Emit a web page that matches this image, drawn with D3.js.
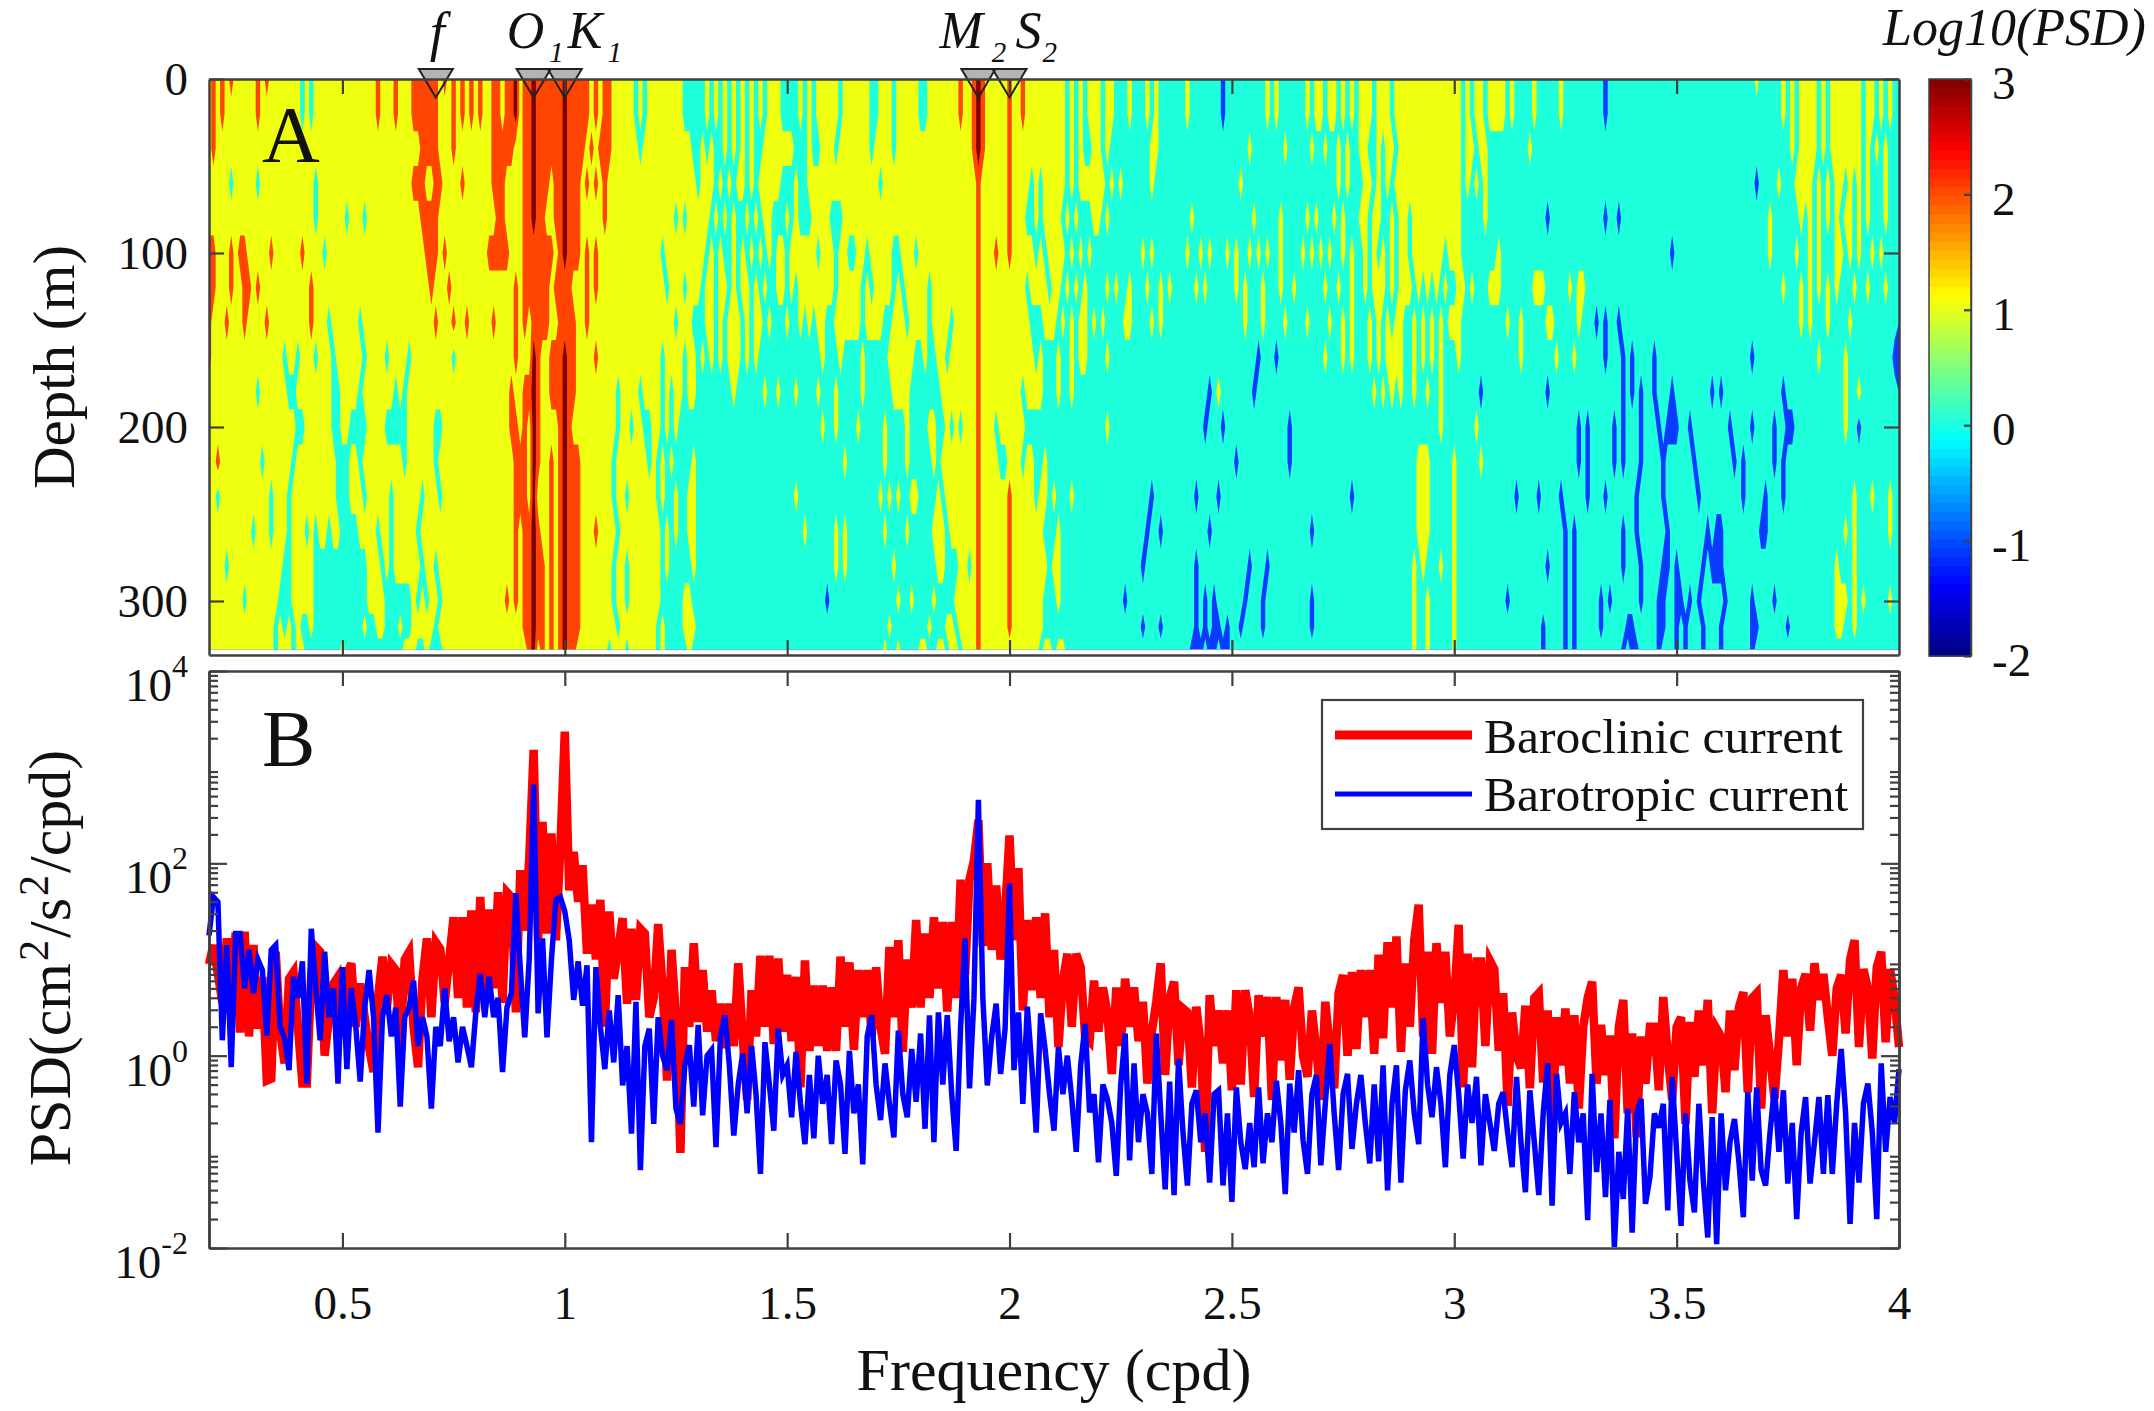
<!DOCTYPE html>
<html>
<head>
<meta charset="utf-8">
<script src="https://cdnjs.cloudflare.com/ajax/libs/d3/7.8.5/d3.min.js"></script>
<style>
  html, body { margin: 0; padding: 0; background: #fff; }
  text { font-family: "Liberation Serif", serif; fill: #111; }
</style>
</head>
<body>
<div id="chart"></div>
<script>
// depth of each row of the spectrogram (m)
const rowDepths = [0, 20, 40, 60, 80, 100, 120, 140, 160, 180, 200, 220, 240, 260, 280, 300, 315, 328];

// one string per depth, one digit per 0.01 cpd from 0.20 cpd, blocks of 0.1 cpd
// 1 blue (<0), 2 cyan (0-1), 3 yellow (1-2), 4 orange (2-3), 5 dark red (>3)
const psdRows = [
"3434343333 3434333333 3232333333 3333333343 3343334444 4434343434 3433443445 3445444444 5444443434 4333332323 3333333222 2232323232 3232323332 2223232333 3323333332 2333233333 2233333334 3345433333 4334333333 3332323233 3233222322 2323222222 3222222212 2222222232 3222222323 3233232323 3323332333 3333333333 3323233233 3323222232 2222322222 2222122222 2222222222 2222222222 2222222232 2222323233 3323233333 3323323232",
"3434333333 3433333333 3232333333 3333333343 3343334444 4433343434 3433443445 3445444444 5444443434 4333332323 3333333222 2232323232 3232323332 2223232333 3323333332 2333233333 2233333334 3345433333 4334333333 3332323233 3233222322 2323222222 3222222212 2222222232 3222222323 3233232323 3323332333 3333333333 3323233233 3323222232 2222322222 2222122222 2222222222 2222222222 2222222222 2222323233 3323233333 3323323232",
"3433333333 3333333333 3333333333 3333333333 3333333344 4433343333 3333444443 3445444444 5444434344 4333333233 3333333332 2323223232 3232233333 3322232233 3233333332 3333233333 3333333333 3345433333 4333333333 3332323223 3232222222 2233222222 2222222222 2222322222 2232222232 2322323223 3223233233 3333333333 3323323322 2222222322 2222222222 2222222222 2222222222 2222222222 2222222222 2222223233 3323233333 3323232322",
"3333323333 3233333333 3333233333 3333333333 3333334443 3443333433 3333444333 3445444344 5444343434 3333333333 3333333333 2333232323 3232333332 2232233333 3333333333 3233333333 3333333333 3334333333 4333323233 3332323333 3323232222 2232222222 2222222222 2232222222 2222222222 2222323222 3323232333 3333333333 3323232322 2222222222 2222222222 2222222222 2222222222 2222222222 2222222212 2223222333 3232323323 2323222322",
"3333333333 3333333333 3333233333 3233323333 3333333344 4433333333 3333344333 3445443344 5444333334 3333333333 3333323233 3332323232 2323233222 3232223333 2223333333 3333333333 3333333333 3334333333 4333223233 3323232223 3232222222 2222222222 2322222222 2222232222 2322222323 2223232223 3233223233 2333333333 3322222322 2222222222 2122222222 2222122122 2222222222 2222222222 2222222222 2322222232 3232323233 2323222322",
"4433343443 3333433333 3433332333 3333333333 3333333334 4434333333 3334444433 3444444434 5444343433 3333333333 3323333333 3323232232 3232323233 2333333233 3233223323 3333223332 3333333333 3334333433 4333332323 3332323232 2222222222 3232222222 3223232223 2322323232 2322223232 3232232322 3232323233 2333333323 3322222222 3222222222 2222222222 2222222222 2222222221 2222222222 2222222222 2322222322 3232223323 2322323222",
"4433343344 3433333333 3334333333 3333333333 3333333333 4333433333 3333333334 3444444344 4433343433 3333333333 3332333233 3233233232 3323232233 2323333333 3233333232 3333232333 3323333333 3334333333 3333233332 3323232322 2232322322 2322323222 2232322222 2323222322 2322322222 2322322322 3233323233 3232323232 2332322233 3222222233 3222223233 2222222222 2222222222 2222222222 2222222222 2222322232 3232323222 3223222322",
"4333433343 3334333333 3334333233 3333233333 3333333333 3433343343 3333433334 3434444334 4443343333 3333333333 3333323332 2233232333 2323323222 3223232332 2333333233 3322333233 3323333233 3334333333 3333322233 3232323323 2322223322 2232322222 2222222222 2223222322 2232222322 2232232322 2323232332 2323232323 3322222222 2232232222 2332222232 2212122122 2222222222 2222222222 2222222222 2222222232 3222322223 2222222222",
"4333333333 3333333233 2333233323 3333323333 2333323333 3333323333 3333333334 3335433444 5443333433 3333333333 3323333233 2323232333 2323222222 2222222232 2232222322 2223333332 2322332333 3334333333 3333332322 2322323322 2232222222 2222222222 2222222222 2222221222 1222222222 2322232322 2323233332 2323232322 2322222222 2222232222 2223222322 2222122212 1222212222 2222222222 2222222122 2222222222 2232222232 2222222221",
"3333333333 3233333322 3333333322 3333233333 3323233333 3333333333 3333333343 3445433444 5443333333 3323333233 3323233233 2222222232 2222232232 2232222322 2322222322 2222333322 2222233333 3334333333 3332333322 2322322222 2222222222 2222222222 2222212322 2222212222 2222222222 2222222222 2232323232 2322322322 2222221222 2222222222 2122222222 2222222212 1212212221 2222222212 1222222222 2222122222 2222222232 2322222222",
"3333333333 3333333333 2233333322 3322223333 2222233333 3223333333 3333333344 3435433334 5433333333 3323323322 3323232222 2222222222 2222222222 2222222232 2322223222 2232222322 2233223232 3334333233 3333222222 2222222222 2232222222 2222222222 2222122212 2222222222 2221222222 2222222222 2222222222 2222222322 2222232222 2222222222 2222222212 1222221212 2212221211 1221222222 2212222122 2212211222 2222222232 2122222222",
"3343333333 3323333332 3333333332 2233233333 3333233333 3233333333 3333333334 4435433434 5444333333 3233333332 3232322223 2222222222 2222222222 2222222222 2223222222 2232222322 2223233333 3334333322 3332332232 2222222222 2222222222 2222222222 2222222222 2122222222 2221222222 2222222222 2222222222 2233322222 3222223222 2222222222 2222222212 1222221212 2212222122 2222122222 2221212222 2212122222 2222222222 2222222222",
"3323333333 3333233323 3333333332 2233323333 3233333323 3323333333 3333333334 4435333434 5444333333 3233233333 3232232233 2222222222 2222222222 2232222222 2222222222 2323232233 2222323333 3334333333 4333332332 3222322222 2222222222 2212222222 2212222122 2222222222 2222222222 2222222122 2222222222 2233322222 3222222222 2222122221 2222122222 1222122222 2122222122 2222212222 2222212222 1222122222 2222222222 3222322232",
"3333333333 2333233323 3323233233 2222333323 3233333233 3333333333 3333333334 3445433434 5444333433 3323333333 3323232233 2222222222 2222222222 2222322222 2323222222 2232222322 2223332333 3334333333 4333333322 2322222222 2222222222 2122122222 2222212222 2222222222 2222222212 2222222222 2222222222 2233322222 3222222222 2222222222 2222212122 2222222212 2122222212 2222222121 1222222221 1222222222 2222222232 3222222232",
"3333233333 3333333223 3333222222 2222223332 3233333323 3233333333 3333333334 3445443434 5444333333 3233233333 3323222223 2222222222 2222222222 2222222222 2323222222 2222322222 2222332223 3234333333 4333333332 3322222222 2222222222 1222222222 2212222222 2222122212 2222222222 2222222222 2222222222 2323222322 3222222222 2222222222 2122212122 2222222212 2212222112 1222221211 1222222222 2222222222 2222223222 3222222222",
"3333333323 3333332223 3333222222 2222223333 2222223232 3323333333 3333333434 3445443434 5444333333 3233233333 3322222332 2222222222 2222222222 2222222221 2222222222 2222232232 2223222233 3334333333 4333333322 2322222222 2222221222 2222222222 2212121222 2221222122 2222222212 2222222222 2222222222 2322322222 3222222222 2212222222 2222212122 2221212222 2212221122 1121212222 2122222122 2212222222 2222223332 3232222232",
"3333333333 3333323232 3223222222 2222232233 2223223333 3233333333 3333333333 3445443434 5444333333 3323333333 3232222333 2222222222 2222222222 2222222222 2222222222 2223222222 2232223323 3334333333 4333333322 2222222222 2222222222 1222122222 2212121121 2212222122 2222222212 2222222222 2222222222 2322322222 3222222222 2222222222 1222212122 2221222221 1222221122 1212221222 1222222112 2222212222 2222223322 3222222222",
"2333333333 3333323332 3322222222 3222222222 2222333223 2223333333 3333333333 3345343434 5443333333 2333233333 3232222232 2222222222 2222222222 2222222222 2222222222 2232232222 3322332332 3334333333 3333333233 2332222222 2222222222 2222222222 2111211211 2222222222 2222222222 2222222222 2222222222 2322322222 3222222222 2222222222 1222212122 2222222212 1122221222 1212221222 1222222122 2222222222 2222222222 2222222222"
];

// PSD, log10 x 100, one value per 0.01 cpd from 0.20 to 4.00
const baroclinic = [
95,115,85,55,122,48,128,24,129,20,
115,28,82,-26,-24,108,24,-8,80,87,
30,-29,-29,85,113,108,0,40,75,82,
20,85,96,30,75,40,8,-17,60,103,
50,95,89,5,100,108,30,-12,80,122,
40,118,111,55,100,144,60,144,50,151,
45,165,60,152,70,170,55,170,165,45,
193,130,205,318,120,243,127,231,120,216,
337,172,212,160,198,106,157,100,162,30,
150,80,110,143,54,132,58,132,127,40,
60,137,70,-26,110,40,-101,92,30,117,
35,89,25,68,15,54,8,54,10,96,
20,-46,68,20,104,30,104,12,101,25,
84,15,82,-33,99,5,73,10,73,5,
71,5,103,30,97,6,89,40,89,20,
92,30,2,113,40,120,4,100,50,141,
50,127,60,144,70,139,46,139,60,183,
84,183,203,245,114,200,110,177,100,150,
229,120,195,47,141,68,144,60,148,40,
110,9,78,106,30,106,92,20,15,78,
25,71,45,-19,71,10,80,30,71,15,
56,-29,25,56,96,-20,60,77,-10,49,
45,-33,51,10,-100,63,10,47,-8,47,
-36,68,-30,68,40,-43,63,20,61,-46,
61,-5,58,-25,50,71,0,-22,47,5,
-46,56,10,-34,65,84,0,87,7,89,
40,89,2,105,18,118,50,124,4,96,
30,120,157,20,108,2,117,55,108,20,
60,136,-33,106,-12,98,98,10,99,90,
5,65,-52,45,0,-13,52,-34,60,65,
-28,47,-90,40,-10,49,-29,42,-55,30,
60,77,-29,32,-20,21,-86,30,58,-60,
23,-85,20,-29,30,30,-36,61,0,-46,
30,40,-71,35,-22,47,-10,58,-60,28,
20,-38,47,-15,50,66,-38,60,65,-55,
42,0,-45,16,89,20,80,-10,70,85,
26,96,58,85,40,0,70,84,23,100,
120,9,90,70,-3,92,108,14,90,60,
9
];

const barotropic = [
125,165,160,16,115,-12,127,127,70,110,
65,100,89,21,110,115,30,18,-15,82,
60,98,-29,132,70,16,108,40,70,-29,
92,-14,70,30,-27,50,89,40,-80,40,
63,20,50,-53,40,50,78,10,40,20,
-55,30,10,70,15,40,-7,30,10,-12,
45,85,40,82,40,60,-17,50,65,169,
90,19,100,282,44,122,19,100,162,165,
150,120,58,98,52,94,-90,92,30,-14,
47,-7,63,-31,10,-81,56,-119,10,28,
-71,40,0,-15,37,-55,-71,-10,11,-53,
32,-62,0,6,-95,20,42,-10,-83,-30,
2,-60,10,-40,-123,14,-30,-78,28,-20,
-10,-64,4,-50,-92,-20,-86,0,-50,-20,
-92,-5,-30,-102,5,-60,-30,-113,20,42,
-30,-67,-8,-50,-85,26,-40,-64,7,-48,
23,-76,42,-90,45,-30,42,-40,-99,30,
122,-34,59,266,60,-31,20,54,-19,28,
179,-15,45,-50,51,-10,-80,44,7,-40,
-78,9,-40,0,-45,-100,-10,33,-59,-40,
-111,-30,-45,-70,-125,-30,23,-109,-8,-90,
-40,-60,-123,23,-60,-139,-27,-145,-3,-80,
-135,-50,-36,-90,-60,-132,-40,-36,-135,-60,
-152,-33,-90,-118,-70,-116,-33,-112,-60,-90,
-26,-70,-144,-29,-80,-15,-88,-123,-40,-20,
-114,-50,12,-60,-119,-40,-19,-97,-50,-20,
-70,-112,-30,-110,-10,-140,-50,-10,-132,-36,
-5,-60,-92,39,-30,-64,-12,-50,-116,-20,
11,-40,-107,-30,-70,-22,-114,-40,-70,-99,
-50,-38,-80,-116,-22,-90,-142,-36,-90,-145,
-60,-8,-156,-19,-70,-60,-123,-38,-90,-60,
-171,-19,-121,-60,-147,-46,-199,-100,-149,-55,
-184,-60,-45,-154,-126,-60,-75,-50,-161,-22,
-100,-177,-60,-130,-163,-50,-130,-189,-64,-196,
-60,-140,-90,-66,-110,-168,-38,-130,-33,-119,
-135,-80,-33,-100,-36,-133,-70,-170,-80,-43,
-133,-90,-43,-123,-41,-123,-50,7,-60,-175,
-70,-132,-50,-29,-80,-170,-8,-100,-43,-70,
-14
];

const constituents = [
  { name: "f", sub: "", freq: 0.71 },
  { name: "O", sub: "1", freq: 0.93 },
  { name: "K", sub: "1", freq: 1.0 },
  { name: "M", sub: "2", freq: 1.93 },
  { name: "S", sub: "2", freq: 2.0 }
];

const freqTicks = [0.5, 1, 1.5, 2, 2.5, 3, 3.5, 4];
const depthTicks = [0, 100, 200, 300];
const psdMajor = [1e-2, 1e0, 1e2, 1e4];
const colorTicks = [3, 2, 1, 0, -1, -2];
const legendItems = ["Baroclinic current", "Barotropic current"];

const levelColors = ["#0a3cff", "#1effdc", "#eeff10", "#ff4500", "#800000"];

// where each name starts relative to its marker and the gap before the subscript
const nameOffset = { f: -6, O: -27, K: 3, M: -39, S: 6 };
const subGap = { f: 0, O: 5, K: 5, M: 9, S: 1 };

const width = 2154, height = 1411;
const left = 209, right = 1899;
const topA = 79, bottomA = 655;
const topB = 671, bottomB = 1248;
const axisColor = "#404040";

const svg = d3.select("#chart").append("svg")
  .attr("width", width)
  .attr("height", height)
  .style("display", "block");

const x = d3.scaleLinear().domain([0.2, 4]).range([left, right]);
const yDepth = d3.scaleLinear().domain([0, (bottomA - topA) / 1.74]).range([topA, bottomA]);
const yPsd = d3.scaleLog().domain([1e-2, 1e4]).range([bottomB, topB]);
const yColor = d3.scaleLinear().domain([-2, 3]).range([bottomA + 1, topA]);

// markers, gray part is behind the image so it only shows above the frame
const triangle = d3.line();
const triPoints = [[-17, -10], [17, -10], [0, 18.5]];
const markerPath = d => triangle(triPoints.map(p => [x(d.freq) + p[0], topA + p[1]])) + "Z";

svg.selectAll(".marker-fill")
  .data(constituents)
  .enter()
  .append("path")
  .attr("class", "marker-fill")
  .attr("d", markerPath)
  .attr("fill", "#b4b4b4");

// panel A, filled contours of the level grid
const nRows = rowDepths.length;
const cells = psdRows.map(r => r.replace(/ /g, "").padEnd(380, "2").slice(0, 380));
const nCols = cells[0].length;
const values = [];
cells.forEach(r => { for (let i = 0; i < nCols; i++) values.push(+r[i]); });

const gridX = d3.scaleLinear()
  .domain([0, 0.5, nCols - 0.5, nCols])
  .range([0.2, 0.2, 3.99, 4]);
const gridY = d3.scaleLinear()
  .domain([0].concat(d3.range(nRows).map(i => i + 0.5), [nRows]))
  .range([0].concat(rowDepths, [rowDepths[nRows - 1]]));

const contours = d3.contours()
  .size([nCols, nRows])
  .thresholds([0.5, 1.5, 2.5, 3.5, 4.5])(values);

const gridPath = d3.geoPath(d3.geoTransform({
  point: function (px, py) {
    this.stream.point(x(gridX(px)), yDepth(gridY(py)));
  }
}));

svg.append("clipPath").attr("id", "heat-clip")
  .append("rect")
  .attr("x", left).attr("y", topA)
  .attr("width", right - left).attr("height", yDepth(328) - topA);

svg.append("g")
  .attr("clip-path", "url(#heat-clip)")
  .selectAll("path")
  .data(contours)
  .enter()
  .append("path")
  .attr("d", gridPath)
  .attr("fill", (d, i) => levelColors[i]);

svg.selectAll(".marker-line")
  .data(constituents)
  .enter()
  .append("path")
  .attr("class", "marker-line")
  .attr("d", markerPath)
  .attr("fill", "none")
  .attr("stroke", "#222")
  .attr("stroke-width", 2);

// constituent names
const names = svg.selectAll(".name")
  .data(constituents)
  .enter()
  .append("text")
  .attr("class", "name")
  .attr("x", d => x(d.freq) + nameOffset[d.name])
  .attr("y", d => d.name === "f" ? 50 : 48)
  .attr("font-style", "italic")
  .attr("font-size", d => d.name === "f" ? 54 : 52);
names.append("tspan").text(d => d.name);
names.append("tspan")
  .attr("font-size", 29)
  .attr("dy", 14)
  .attr("dx", d => subGap[d.name])
  .text(d => d.sub);

// axes
function styleAxis(g) {
  g.selectAll("path.domain").attr("stroke", axisColor).attr("stroke-width", 2.5);
  g.selectAll(".tick line").attr("stroke", axisColor).attr("stroke-width", 2.2);
  g.selectAll(".tick text").attr("font-size", 47).attr("font-family", "Liberation Serif").attr("fill", "#111");
}

// panel A frame
svg.append("g").attr("transform", `translate(0,${bottomA})`)
  .call(d3.axisBottom(x).tickValues(freqTicks.slice(0, 7)).tickSize(-15).tickFormat("").tickSizeOuter(0))
  .call(styleAxis);
svg.append("g").attr("transform", `translate(0,${topA})`)
  .call(d3.axisTop(x).tickValues(freqTicks.slice(0, 7)).tickSize(-15).tickFormat("").tickSizeOuter(0))
  .call(styleAxis);
svg.append("g").attr("transform", `translate(${left},0)`)
  .call(d3.axisLeft(yDepth).tickValues(depthTicks).tickSize(-15).tickSizeOuter(0).tickPadding(21))
  .call(styleAxis);
svg.append("g").attr("transform", `translate(${right},0)`)
  .call(d3.axisRight(yDepth).tickValues(depthTicks).tickSize(-15).tickSizeOuter(0).tickFormat(""))
  .call(styleAxis);

// panel B lines
const lineB = d3.line()
  .x((d, i) => x(0.2 + i * 0.01))
  .y(d => yPsd(Math.pow(10, d / 100)));

svg.append("path")
  .datum(baroclinic)
  .attr("d", lineB)
  .attr("fill", "none")
  .attr("stroke", "#ff0000")
  .attr("stroke-width", 8.5);

svg.append("path")
  .datum(barotropic)
  .attr("d", lineB)
  .attr("fill", "none")
  .attr("stroke", "#0000ff")
  .attr("stroke-width", 5.5);

// panel B frame
const minor = [];
d3.range(-2, 4).forEach(k => {
  d3.range(2, 10).forEach(m => minor.push(m * Math.pow(10, k)));
});

svg.append("g").attr("transform", `translate(0,${bottomB})`)
  .call(d3.axisBottom(x).tickValues(freqTicks).tickSize(-15).tickSizeOuter(0).tickPadding(38).tickFormat(d => d))
  .call(styleAxis);
svg.append("g").attr("transform", `translate(0,${topB})`)
  .call(d3.axisTop(x).tickValues(freqTicks).tickSize(-15).tickSizeOuter(0).tickFormat(""))
  .call(styleAxis);

[[d3.axisLeft, left], [d3.axisRight, right]].forEach(side => {
  svg.append("g").attr("transform", `translate(${side[1]},0)`)
    .call(side[0](yPsd).tickValues(minor).tickSize(-9).tickSizeOuter(0).tickFormat(""))
    .call(styleAxis);
  svg.append("g").attr("transform", `translate(${side[1]},0)`)
    .call(side[0](yPsd).tickValues(psdMajor).tickSize(-18).tickSizeOuter(0).tickFormat(""))
    .call(styleAxis);
});

const psdLabels = svg.selectAll(".psd-label")
  .data(psdMajor)
  .enter()
  .append("text")
  .attr("class", "psd-label")
  .attr("x", 188)
  .attr("y", d => yPsd(d) + 30)
  .attr("text-anchor", "end")
  .attr("font-size", 47);
psdLabels.append("tspan").text("10");
psdLabels.append("tspan")
  .attr("font-size", 32)
  .attr("dy", -24)
  .text(d => Math.round(Math.log10(d)));

// legend
const legend = svg.append("g");
legend.append("rect")
  .attr("x", 1322).attr("y", 700)
  .attr("width", 541).attr("height", 129)
  .attr("fill", "#fff")
  .attr("stroke", axisColor)
  .attr("stroke-width", 2.2);
legend.selectAll("line")
  .data(legendItems)
  .enter()
  .append("line")
  .attr("x1", 1335).attr("x2", 1472)
  .attr("y1", (d, i) => 735 + i * 59)
  .attr("y2", (d, i) => 735 + i * 59)
  .attr("stroke", (d, i) => i === 0 ? "#ff0000" : "#0000ff")
  .attr("stroke-width", (d, i) => i === 0 ? 9 : 5);
legend.selectAll("text")
  .data(legendItems)
  .enter()
  .append("text")
  .attr("x", 1484)
  .attr("y", (d, i) => 753 + i * 58)
  .attr("font-size", 49.5)
  .text(d => d);

// colorbar
const barX = 1929, barW = 42, nBands = 64;
const jet = t => {
  const c = v => Math.round(255 * Math.max(0, Math.min(1, v)));
  return `rgb(${c(1.5 - Math.abs(4 * t - 3))},${c(1.5 - Math.abs(4 * t - 2))},${c(1.5 - Math.abs(4 * t - 1))})`;
};
const bandH = (yColor(-2) - yColor(3)) / nBands;
svg.selectAll(".band")
  .data(d3.range(nBands))
  .enter()
  .append("rect")
  .attr("class", "band")
  .attr("x", barX)
  .attr("width", barW)
  .attr("y", d => yColor(-2 + 5 * (d + 1) / nBands))
  .attr("height", bandH + 0.6)
  .attr("fill", d => jet((d + 0.5) / nBands));
svg.append("rect")
  .attr("x", barX).attr("y", topA)
  .attr("width", barW).attr("height", bottomA + 1 - topA)
  .attr("fill", "none")
  .attr("stroke", axisColor)
  .attr("stroke-width", 1.5);
svg.append("g").attr("transform", `translate(${barX + barW},0)`)
  .call(d3.axisRight(yColor).tickValues(colorTicks).tickSize(-7).tickSizeOuter(0).tickPadding(21).tickFormat(d => d))
  .call(styleAxis)
  .call(g => g.select("path.domain").attr("stroke-width", 1.5))
  .call(g => g.selectAll(".tick text").attr("dy", "0.42em"));

// titles and panel letters
svg.append("text")
  .attr("x", 1883).attr("y", 45)
  .attr("font-size", 52).attr("font-style", "italic")
  .text("Log10(PSD)");
svg.append("text")
  .attr("transform", "translate(74,367) rotate(-90)")
  .attr("text-anchor", "middle")
  .attr("font-size", 59)
  .text("Depth (m)");

const psdTitle = svg.append("text")
  .attr("transform", "translate(70,958) rotate(-90)")
  .attr("text-anchor", "middle")
  .attr("font-size", 60);
psdTitle.append("tspan").text("PSD(cm");
psdTitle.append("tspan").attr("font-size", 42).attr("dy", -22).attr("dx", 2).text("2");
psdTitle.append("tspan").attr("dy", 22).attr("dx", 2).text("/s");
psdTitle.append("tspan").attr("font-size", 42).attr("dy", -22).attr("dx", 2).text("2");
psdTitle.append("tspan").attr("dy", 22).attr("dx", 2).text("/cpd)");

svg.append("text")
  .attr("x", 1054).attr("y", 1390)
  .attr("text-anchor", "middle")
  .attr("font-size", 60)
  .text("Frequency (cpd)");
svg.append("text")
  .attr("x", 262).attr("y", 162)
  .attr("font-size", 80)
  .text("A");
svg.append("text")
  .attr("x", 262).attr("y", 766)
  .attr("font-size", 80)
  .text("B");
</script>
</body>
</html>
